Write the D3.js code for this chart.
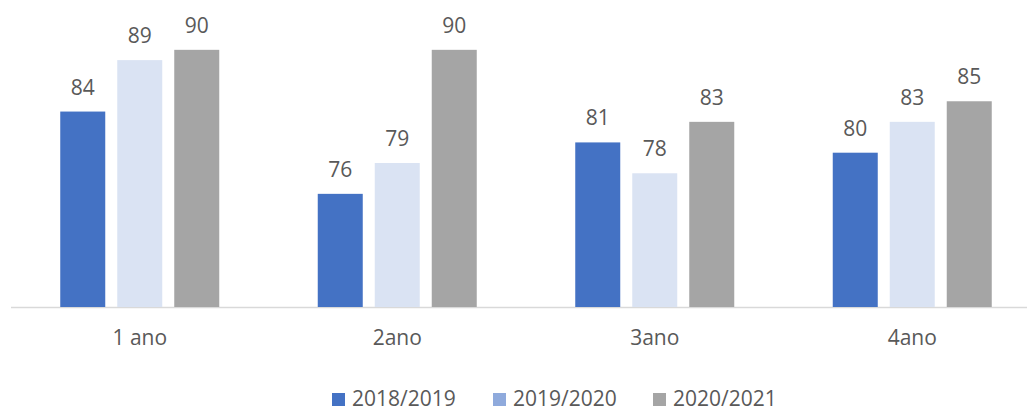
<!DOCTYPE html>
<html>
<head>
<meta charset="utf-8">
<script src="https://cdn.jsdelivr.net/npm/d3@7"></script>
<style>
  body { margin: 0; background: #fff; }
  text { font-family: "Open Sans", sans-serif; fill: #595959; }
</style>
</head>
<body>
<div id="vis"></div>
<script>
let W = 1027;
let H = 412;

// Data
let categories = ['1 ano', '2ano', '3ano', '4ano'];
let seriesNames = ['2018/2019', '2019/2020', '2020/2021'];
let values2018 = [84, 76, 81, 80];
let values2019 = [89, 79, 78, 83];
let values2020 = [90, 90, 83, 85];

let barColors = ['#4472C4', '#DAE3F3', '#A5A5A5'];
let legendColors = ['#4472C4', '#8FAADC', '#A5A5A5'];

let rows = categories.map((c, i) => ({
  cat: c,
  vals: [values2018[i], values2019[i], values2020[i]]
}));

let svg = d3.select('#vis').append('svg').attr('width', W).attr('height', H);

// Scales
let x0 = d3.scaleBand().domain(categories).range([11, 1041]).padding(0);
let x1 = d3.scaleBand().domain(seriesNames).range([-79.5, 79.5]).paddingInner(12 / 57).paddingOuter(0);
let y = d3.scaleLinear().domain([65, 95]).range([307, -1.6]);

// Axis line
svg.append('line')
  .attr('x1', 11).attr('x2', W)
  .attr('y1', 307.5).attr('y2', 307.5)
  .attr('stroke', '#D9D9D9').attr('stroke-width', 1.5);

// Bars
let groups = svg.selectAll('g.grp').data(rows).enter().append('g')
  .attr('class', 'grp')
  .attr('transform', d => `translate(${x0(d.cat) + x0.bandwidth() / 2},0)`);

groups.selectAll('rect').data(d => d.vals.map((v, i) => ({ v: v, s: seriesNames[i], i: i })))
  .enter().append('rect')
  .attr('x', d => x1(d.s))
  .attr('width', x1.bandwidth())
  .attr('y', d => y(d.v))
  .attr('height', d => y(65) - y(d.v))
  .attr('fill', d => barColors[d.i]);

// Value labels
groups.selectAll('text.val').data(d => d.vals.map((v, i) => ({ v: v, s: seriesNames[i] })))
  .enter().append('text')
  .attr('class', 'val')
  .attr('x', d => x1(d.s) + x1.bandwidth() / 2)
  .attr('y', d => y(d.v) - 17)
  .attr('text-anchor', 'middle')
  .attr('font-size', '21px')
  .text(d => d.v);

// Category labels
svg.selectAll('text.cat').data(categories).enter().append('text')
  .attr('class', 'cat')
  .attr('x', d => x0(d) + x0.bandwidth() / 2)
  .attr('y', 345)
  .attr('text-anchor', 'middle')
  .attr('font-size', '21px')
  .text(d => d);

// Legend
let legendX = [332, 493, 653];
let legend = svg.selectAll('g.leg').data(seriesNames).enter().append('g')
  .attr('class', 'leg')
  .attr('transform', (d, i) => `translate(${legendX[i]},0)`);
legend.append('rect')
  .attr('x', 0).attr('y', 393)
  .attr('width', 13).attr('height', 13)
  .attr('fill', (d, i) => legendColors[i]);
legend.append('text')
  .attr('x', 20).attr('y', 406)
  .attr('font-size', '21px')
  .text(d => d);
</script>
</body>
</html>
